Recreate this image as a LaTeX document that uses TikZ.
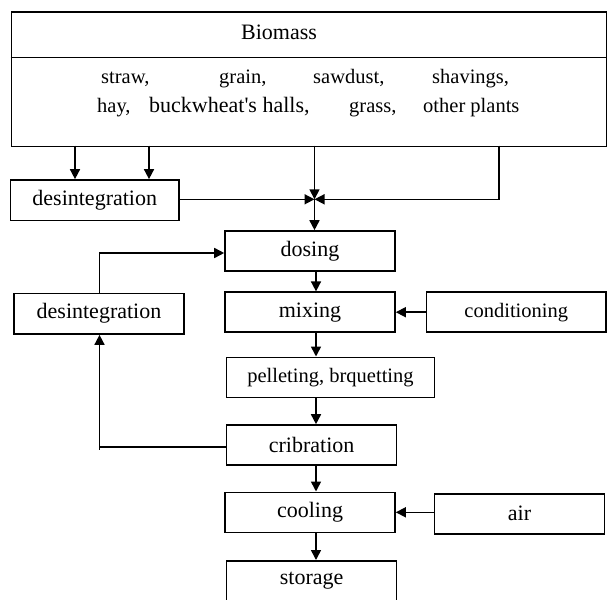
\documentclass[tikz,border=0pt]{standalone}
\usepackage{fontspec}
\setmainfont{Liberation Serif}
\usetikzlibrary{arrows.meta}
\begin{document}
\begin{tikzpicture}[x=1pt,y=-1pt,
  box/.style={draw,line width=1.6pt,inner sep=0pt,font=\fontsize{22}{26}\selectfont},
  smallbox/.style={box,font=\fontsize{20.5}{24}\selectfont},
  word/.style={inner sep=0pt,anchor=base west,font=\fontsize{20.5}{24}\selectfont},
  conn/.style={line width=1.6pt},
  arr/.style={conn,-{Triangle[length=10pt,width=10pt]}}]
\useasboundingbox (0,0) rectangle (607,599);
% Biomass block
\node[box,anchor=north west,minimum width=595.5pt,minimum height=134pt] (bio) at (10.5,11.5) {};
\draw[conn] ([yshift=-46pt]bio.north west) -- ([yshift=-46pt]bio.north east);
\node[inner sep=0pt,anchor=base,font=\fontsize{22}{26}\selectfont] (biot) at (279,40) {Biomass};
\node[word] (w1) at (101,84) {straw,};
\node[word] (w2) at (219,84) {grain,};
\node[word] (w3) at (313,84) {sawdust,};
\node[word] (w4) at (432,84) {shavings,};
\node[word] (w5) at (97,113) {hay,};
\node[word,font=\fontsize{22}{26}\selectfont] (w6) at (149,113) {buckwheat\textquotesingle s halls,};
\node[word] (w7) at (349,113) {grass,};
\node[word] (w8) at (423,113) {other plants};
% process boxes
\node[box,minimum width=168.5pt,minimum height=40.7pt] (des1) at (94.75,200.3) {desintegration};
\node[box,minimum width=170pt,minimum height=40pt] (dos) at (310,251) {dosing};
\node[box,minimum width=170pt,minimum height=40.7pt] (des2) at (99,313.7) {desintegration};
\node[box,minimum width=170pt,minimum height=40pt] (mix) at (310,312.2) {mixing};
\node[smallbox,minimum width=179.4pt,minimum height=40pt] (cond) at (516.3,312.2) {conditioning};
\node[smallbox,minimum width=208pt,minimum height=40pt] (pel) at (330.5,377.3) {pelleting, brquetting};
\node[box,minimum width=170pt,minimum height=40pt] (crib) at (311.6,445) {cribration};
\node[box,minimum width=170pt,minimum height=40pt] (cool) at (310,512.3) {cooling};
\node[box,minimum width=170pt,minimum height=40pt] (air) at (519.5,513.8) {air};
\node[box,minimum width=170pt,minimum height=40pt] (stor) at (311.6,580.8) {storage};
% coordinates
\coordinate (J) at (314.5,199.3);
\coordinate (C) at (316,0);
\coordinate (b1) at (75,145.5);
\coordinate (b2) at (149,145.5);
\coordinate (b3) at (314.5,145.5);
\coordinate (b4) at (499,145.5);
% connectors from biomass
\draw[arr] (b1) -- (b1 |- des1.north);
\draw[arr] (b2) -- (b2 |- des1.north);
\draw[arr] (b3) -- (J);
\draw[arr] (b4) |- (J);
\draw[arr] (des1.east |- J) -- (J);
\draw[arr] (J) -- (J |- dos.north);
% main chain
\draw[arr] (C |- dos.south) -- (C |- mix.north);
\draw[arr] (C |- mix.south) -- (C |- pel.north);
\draw[arr] (C |- pel.south) -- (C |- crib.north);
\draw[arr] (C |- crib.south) -- (C |- cool.north);
\draw[arr] (C |- cool.south) -- (C |- stor.north);
% side inputs
\draw[arr] (cond.west) -- (mix.east);
\draw[arr] (air.west |- cool.east) -- (cool.east);
% recycle loop
\coordinate (r1) at (99.5,447);
\draw[conn] (crib.west |- r1) -- (r1) -- ++(0,3);
\draw[arr] (r1) -- (r1 |- des2.south);
\coordinate (r2) at (99.5,253);
\draw[arr] (r2 |- des2.north) -- (r2) -- (r2 -| dos.west);
\end{tikzpicture}
\end{document}
